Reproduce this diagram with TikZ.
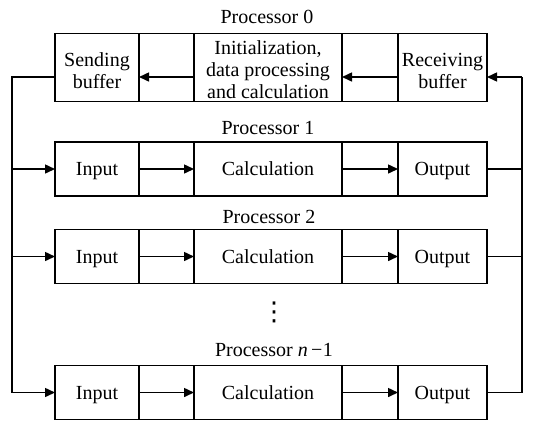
\documentclass[tikz,border=0pt]{standalone}
\usepackage{fontspec}
\setmainfont{Liberation Serif}
\newfontfamily\dejavufam{DejaVu Sans}
\usetikzlibrary{arrows.meta}
\begin{document}
\begin{tikzpicture}[x=1pt,y=-1pt,
  every node/.style={font=\fontsize{20}{22}\selectfont, inner sep=0pt, outer sep=0pt},
  cell/.style={draw, line width=1.8pt, minimum height=#1, anchor=north west},
  one/.style={text height=13.5pt, text depth=0.5pt},
  conn/.style={line width=1.5pt},
  arr/.style={line width=1.5pt, -{Triangle[length=10pt,width=9pt]}},
  title/.style={anchor=center}
]
\useasboundingbox (0,0) rectangle (534,421);

% ---------- Processor 0 ----------
\node[title] (t0) at (267,17) {Processor 0};
\node[cell=68pt, minimum width=84pt, align=center, text height=42pt, text depth=0pt] (r0a) at (55,33.5) {Sending\\buffer};
\node[cell=68pt, minimum width=55pt] (r0g1) at (r0a.north east) {};
\node[cell=68pt, minimum width=148pt, align=center, text height=61.5pt, text depth=0pt] (r0b) at (r0g1.north east) {Initialization,\\data processing\\and calculation};
\node[cell=68pt, minimum width=56pt] (r0g2) at (r0b.north east) {};
\node[cell=68pt, minimum width=89pt, align=center, text height=42pt, text depth=0pt] (r0c) at (r0g2.north east) {Receiving\\buffer};

% ---------- Processor 1 ----------
\node[title] (t1) at (268,128) {Processor 1};
\node[cell=54pt, minimum width=84pt, one] (r1a) at (55,142) {Input};
\node[cell=54pt, minimum width=55pt] (r1g1) at (r1a.north east) {};
\node[cell=54pt, minimum width=148pt, one] (r1b) at (r1g1.north east) {Calculation};
\node[cell=54pt, minimum width=56pt] (r1g2) at (r1b.north east) {};
\node[cell=54pt, minimum width=89pt, one] (r1c) at (r1g2.north east) {Output};

% ---------- Processor 2 ----------
\node[title] (t2) at (269,216.5) {Processor 2};
\node[cell=54pt, minimum width=84pt, one] (r2a) at (55,229.5) {Input};
\node[cell=54pt, minimum width=55pt] (r2g1) at (r2a.north east) {};
\node[cell=54pt, minimum width=148pt, one] (r2b) at (r2g1.north east) {Calculation};
\node[cell=54pt, minimum width=56pt] (r2g2) at (r2b.north east) {};
\node[cell=54pt, minimum width=89pt, one] (r2c) at (r2g2.north east) {Output};

% ---------- dots ----------
\node[font=\dejavufam\fontsize{26}{26}\selectfont] (dots) at (274,312) {⋮};

% ---------- Processor n-1 ----------
\node[title] (t3) at (274,350) {Processor \textit{n}\,−\kern0.5pt1};
\node[cell=54pt, minimum width=84pt, one] (r3a) at (55,365.5) {Input};
\node[cell=54pt, minimum width=55pt] (r3g1) at (r3a.north east) {};
\node[cell=54pt, minimum width=148pt, one] (r3b) at (r3g1.north east) {Calculation};
\node[cell=54pt, minimum width=56pt] (r3g2) at (r3b.north east) {};
\node[cell=54pt, minimum width=89pt, one] (r3c) at (r3g2.north east) {Output};

% ---------- connectors ----------
\coordinate (y0) at (0,77);
\coordinate (L0) at (12,77);
\coordinate (R0) at (522,77);

% row 0 (right to left)
\draw[arr] (R0) -- (r0c.east |- y0);
\draw[arr] (r0c.west |- y0) -- (r0b.east |- y0);
\draw[arr] (r0b.west |- y0) -- (r0a.east |- y0);
\draw[conn] (r0a.west |- y0) -- (L0) -- (L0 |- r3a.west);

% left branches
\draw[arr] (L0 |- r1a.west) -- (r1a.west);
\draw[arr] (L0 |- r2a.west) -- (r2a.west);
\draw[arr] (L0 |- r3a.west) -- (r3a.west);

% inner arrows
\draw[arr] (r1a.east) -- (r1b.west);
\draw[arr] (r1b.east) -- (r1c.west);
\draw[arr] (r2a.east) -- (r2b.west);
\draw[arr] (r2b.east) -- (r2c.west);
\draw[arr] (r3a.east) -- (r3b.west);
\draw[arr] (r3b.east) -- (r3c.west);

% right returns
\draw[conn] (r1c.east) -- (R0 |- r1c.east);
\draw[conn] (r2c.east) -- (R0 |- r2c.east);
\draw[conn] (r3c.east) -- (R0 |- r3c.east) -- (R0);
\end{tikzpicture}
\end{document}
